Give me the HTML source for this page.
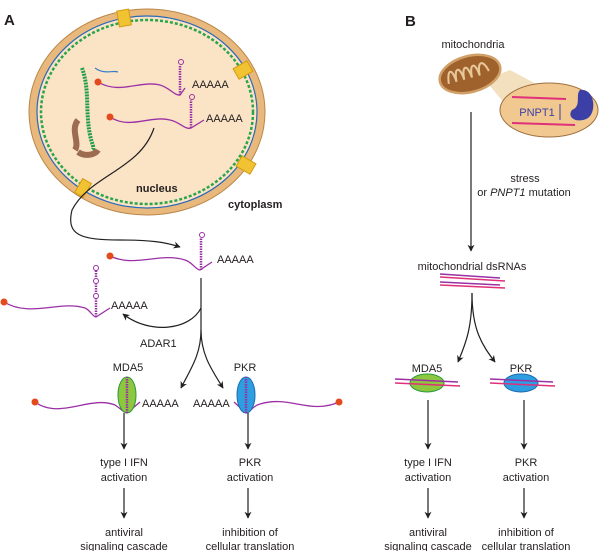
<!DOCTYPE html>
<html><head><meta charset="utf-8"><style>
html,body{margin:0;padding:0;background:#fff}
svg{display:block}
text{font-family:"Liberation Sans",sans-serif;fill:#231f20}
</style></head><body>
<svg width="600" height="551" viewBox="0 0 600 551" xmlns="http://www.w3.org/2000/svg">
<defs>
<marker id="ah" viewBox="0 0 10 10" refX="9" refY="5" markerWidth="7" markerHeight="7" orient="auto" markerUnits="userSpaceOnUse">
<path d="M0,0 L10,5 L0,10 L3,5 z" fill="#231f20"/></marker>
</defs>
<text x="4" y="25" font-size="15" font-weight="bold">A</text>
<text x="405" y="26" font-size="15" font-weight="bold">B</text>
<!-- cell -->
<ellipse cx="147" cy="112" rx="118" ry="103" fill="#e8b87c" stroke="#b9874a" stroke-width="1"/>
<ellipse cx="147" cy="112" rx="110" ry="96" fill="#fbe4c6" stroke="#2a6ab8" stroke-width="1.2"/>
<ellipse cx="147" cy="112" rx="106" ry="92" fill="none" stroke="#2aa44a" stroke-width="2.5" stroke-dasharray="3 2"/>
<g fill="#f1c232" stroke="#d49b12">
<rect x="118" y="10" width="12" height="16" transform="rotate(-10 124 18)"/>
<rect x="237" y="62" width="12" height="16" transform="rotate(60 243 70)"/>
<rect x="240" y="157" width="12" height="16" transform="rotate(-60 246 165)"/>
<rect x="78" y="180" width="10" height="16" transform="rotate(30 83 188)"/>
</g>
<path d="M82,68 C90,90 85,110 90,135 C92,145 95,148 92,150" stroke="#1e9e48" stroke-width="4" fill="none" stroke-dasharray="2 1"/>
<path d="M78,120 C70,130 80,142 75,150 M98,150 C95,155 85,157 78,152" stroke="#9c6b50" stroke-width="6" fill="none"/>
<path d="M95,68 C105,75 112,70 118,72" stroke="#3a7bc8" stroke-width="1.2" fill="none"/>
<path d="M98,82 C120,95 140,80 160,85 C170,88 175,96 180,95 L185,88" stroke="#9b2fa5" stroke-width="1.3" fill="none"/>
<circle cx="98" cy="82" r="3.5" fill="#e34a1c"/>
<line x1="180" y1="95" x2="180" y2="65" stroke="#9b2fa5" stroke-width="2.5" stroke-dasharray="1.5 1"/>
<circle cx="181" cy="62" r="2.5" fill="none" stroke="#9b2fa5"/>
<text x="192" y="88" font-size="11">AAAAA</text>
<path d="M110,117 C130,130 150,115 170,120 C180,122 185,130 191,128 L204,120" stroke="#9b2fa5" stroke-width="1.3" fill="none"/>
<circle cx="110" cy="117" r="3.5" fill="#e34a1c"/>
<line x1="191" y1="128" x2="191" y2="100" stroke="#9b2fa5" stroke-width="2.5" stroke-dasharray="1.5 1"/>
<circle cx="192" cy="97" r="2.5" fill="none" stroke="#9b2fa5"/>
<text x="206" y="122" font-size="11">AAAAA</text>
<text x="136" y="192" font-size="11" font-weight="bold">nucleus</text>
<text x="228" y="208" font-size="11" font-weight="bold">cytoplasm</text>
<path d="M154,128 C140,170 90,175 72,210 C66,235 80,240 120,240 C150,240 165,242 180,247" stroke="#231f20" stroke-width="1.2" fill="none" marker-end="url(#ah)"/>
<path d="M110,256 C135,268 160,252 185,260 C192,262 196,270 200,270 L212,262" stroke="#9b2fa5" stroke-width="1.3" fill="none"/>
<circle cx="110" cy="256" r="3.5" fill="#e34a1c"/>
<line x1="201" y1="270" x2="201" y2="238" stroke="#9b2fa5" stroke-width="2.5" stroke-dasharray="1.5 1"/>
<circle cx="202" cy="235" r="2.5" fill="none" stroke="#9b2fa5"/>
<text x="217" y="263" font-size="11">AAAAA</text>
<path d="M4,302 C30,318 60,300 85,308 C90,310 93,317 96,317 L110,308" stroke="#9b2fa5" stroke-width="1.3" fill="none"/>
<circle cx="4" cy="302" r="3.5" fill="#e34a1c"/>
<line x1="96" y1="317" x2="96" y2="270" stroke="#9b2fa5" stroke-width="2.5" stroke-dasharray="1.5 1"/>
<circle cx="96" cy="268" r="2.5" fill="none" stroke="#9b2fa5"/>
<circle cx="96" cy="281" r="2.5" fill="#fff" stroke="#9b2fa5"/>
<circle cx="96" cy="296" r="2.5" fill="#fff" stroke="#9b2fa5"/>
<text x="111" y="309" font-size="11">AAAAA</text>
<line x1="201" y1="278" x2="201" y2="330" stroke="#231f20" stroke-width="1.2"/>
<path d="M201,308 C190,330 150,335 123,314" stroke="#231f20" stroke-width="1.2" fill="none" marker-end="url(#ah)"/>
<text x="140" y="347" font-size="11">ADAR1</text>
<path d="M201,330 C201,355 190,370 181,388" stroke="#231f20" stroke-width="1.2" fill="none" marker-end="url(#ah)"/>
<path d="M201,330 C201,355 212,370 223,388" stroke="#231f20" stroke-width="1.2" fill="none" marker-end="url(#ah)"/>
<text x="128" y="371" font-size="11" text-anchor="middle">MDA5</text>
<text x="245" y="371" font-size="11" text-anchor="middle">PKR</text>
<path d="M35,402 C60,420 90,395 115,405 C120,408 124,413 127,413 L140,402" stroke="#9b2fa5" stroke-width="1.3" fill="none"/>
<circle cx="35" cy="402" r="3.5" fill="#e34a1c"/>
<ellipse cx="127" cy="395" rx="9" ry="18" fill="#8dc63f" stroke="#2a9a3a"/>
<line x1="127" y1="413" x2="127" y2="377" stroke="#9b2fa5" stroke-width="2.5" stroke-dasharray="1.5 1"/>
<text x="142" y="407" font-size="11">AAAAA</text>
<text x="193" y="407" font-size="11">AAAAA</text>
<path d="M234,402 L246,413 C250,413 252,406 260,404 C290,395 310,415 339,402" stroke="#9b2fa5" stroke-width="1.3" fill="none"/>
<circle cx="339" cy="402" r="3.5" fill="#e34a1c"/>
<ellipse cx="246" cy="395" rx="9" ry="18" fill="#2d9ee0" stroke="#1a6db0"/>
<line x1="246" y1="413" x2="246" y2="377" stroke="#9b2fa5" stroke-width="2.5" stroke-dasharray="1.5 1"/>
<g stroke="#231f20" stroke-width="1.2" marker-end="url(#ah)">
<line x1="124" y1="413" x2="124" y2="449"/><line x1="248" y1="413" x2="248" y2="449"/>
<line x1="124" y1="488" x2="124" y2="518"/><line x1="248" y1="488" x2="248" y2="518"/>
<line x1="428" y1="400" x2="428" y2="449"/><line x1="524" y1="400" x2="524" y2="449"/>
<line x1="428" y1="488" x2="428" y2="518"/><line x1="524" y1="488" x2="524" y2="518"/>
</g>
<g font-size="11" text-anchor="middle">
<text x="124" y="466">type I IFN</text><text x="124" y="481">activation</text>
<text x="124" y="536">antiviral</text><text x="124" y="550">signaling cascade</text>
<text x="250" y="466">PKR</text><text x="250" y="481">activation</text>
<text x="250" y="536">inhibition of</text><text x="250" y="550">cellular translation</text>
<text x="428" y="466">type I IFN</text><text x="428" y="481">activation</text>
<text x="428" y="536">antiviral</text><text x="428" y="550">signaling cascade</text>
<text x="526" y="466">PKR</text><text x="526" y="481">activation</text>
<text x="526" y="536">inhibition of</text><text x="526" y="550">cellular translation</text>
</g>
<!-- panel B -->
<text x="473" y="48" font-size="11" text-anchor="middle">mitochondria</text>
<path d="M485,80 L510,70 L540,86 L510,110 z" fill="#f2ddb8" opacity="0.9"/>
<g transform="rotate(-15 470 74)">
<ellipse cx="470" cy="74" rx="31" ry="18" fill="#a0622d" stroke="#d0a068" stroke-width="2.5"/>
<path d="M447,78 C449,63 454,63 455,78 C456,63 462,63 463,78 C464,63 470,63 471,78 C472,63 478,63 479,78 C480,63 486,63 489,76" stroke="#e8c79a" stroke-width="2" fill="none"/>
</g>
<ellipse cx="549" cy="110" rx="49" ry="27" fill="#f0c890" stroke="#a07040"/>
<line x1="512" y1="97" x2="566" y2="99" stroke="#e0307a" stroke-width="2"/>
<line x1="512" y1="123" x2="575" y2="125" stroke="#e0307a" stroke-width="2"/>
<path d="M580,90 C595,88 597,112 588,118 C578,124 566,118 572,110 C582,106 575,95 580,90 z" fill="#3b3fa6"/>
<text x="537" y="116" font-size="11" text-anchor="middle" style="fill:#3b3fa6">PNPT1</text>
<line x1="560" y1="104" x2="560" y2="120" stroke="#3b3fa6"/>
<line x1="471" y1="112" x2="471" y2="251" stroke="#231f20" stroke-width="1.2" marker-end="url(#ah)"/>
<text x="525" y="182" font-size="11" text-anchor="middle">stress</text>
<text x="524" y="196" font-size="11" text-anchor="middle">or <tspan font-style="italic">PNPT1</tspan> mutation</text>
<text x="472" y="270" font-size="11" text-anchor="middle">mitochondrial dsRNAs</text>
<g stroke-width="1.5" fill="none">
<path d="M440,274 L500,278" stroke="#9b2fa5"/><path d="M440,277 L505,281" stroke="#e0307a"/>
<path d="M440,282 L500,285" stroke="#9b2fa5"/><path d="M440,285 L505,288" stroke="#e0307a"/>
</g>
<path d="M472,293 C472,330 465,345 458,362" stroke="#231f20" stroke-width="1.2" fill="none" marker-end="url(#ah)"/>
<path d="M472,293 C472,330 482,345 495,362" stroke="#231f20" stroke-width="1.2" fill="none" marker-end="url(#ah)"/>
<text x="427" y="372" font-size="11" text-anchor="middle">MDA5</text>
<text x="521" y="372" font-size="11" text-anchor="middle">PKR</text>
<ellipse cx="427" cy="383" rx="17" ry="9" fill="#8dc63f" stroke="#2a9a3a"/>
<ellipse cx="521" cy="383" rx="17" ry="9" fill="#2d9ee0" stroke="#1a6db0"/>
<g stroke-width="1.5" fill="none">
<path d="M395,379 L458,382" stroke="#9b2fa5"/><path d="M395,383 L460,386" stroke="#e0307a"/>
<path d="M490,379 L553,382" stroke="#9b2fa5"/><path d="M490,383 L555,386" stroke="#e0307a"/>
</g>
</svg>
</body></html>
